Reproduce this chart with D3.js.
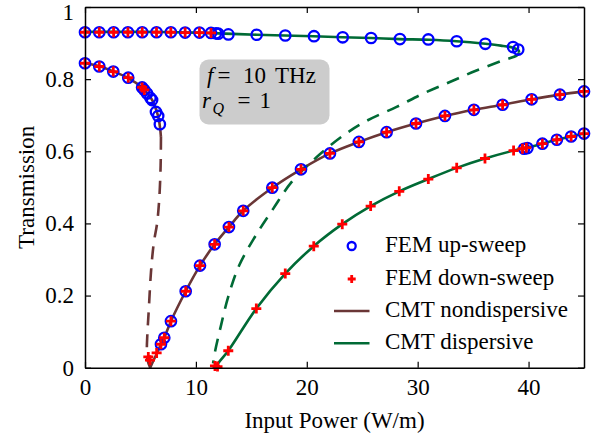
<!DOCTYPE html>
<html>
<head>
<meta charset="utf-8">
<script src="https://cdn.jsdelivr.net/npm/d3@7"></script>
<style>
  html, body { margin: 0; padding: 0; background: #fff; }
  svg { display: block; }
</style>
</head>
<body>
<svg id="chart" width="594" height="440"></svg>
<script>
// ---------------- data ----------------
const xTicks = [0, 10, 20, 30, 40];
const yTicks = [0, 0.2, 0.4, 0.6, 0.8, 1];
const xLabel = "Input Power (W/m)";
const yLabel = "Transmission";
const legendLabels = ["FEM up-sweep", "FEM down-sweep", "CMT nondispersive", "CMT dispersive"];

// FEM up-sweep (blue circles)
const upP = [0,1.29,2.58,3.87,5.16,6.45,7.74,9.03,10.32,11.36,11.81,12.02,12.93,15.48,18.06,20.65,23.24,25.8,28.4,30.96,33.52,36.1,38.6,39.07,
             0,1.29,2.55,3.9,5.15,5.35,5.6,5.9,6.05,6.4,6.6,6.75,
             6.85,7.15,7.75,9.08,10.37,11.69,12.98,14.27,16.89,19.48,22.09,24.7,27.2,29.85,32.46,35.07,37.66,40.28,42.83,45,
             39.6,39.9,41.25,42.55,43.84,45.0];
const upT = [0.930,0.930,0.930,0.930,0.930,0.930,0.930,0.929,0.929,0.928,0.927,0.926,0.924,0.923,0.921,0.919,0.916,0.914,0.911,0.910,0.905,0.898,0.889,0.882,
             0.844,0.835,0.821,0.804,0.777,0.770,0.760,0.748,0.742,0.709,0.698,0.675,
             0.065,0.083,0.129,0.212,0.283,0.342,0.390,0.435,0.499,0.550,0.594,0.626,0.653,0.677,0.698,0.715,0.729,0.744,0.757,0.766,
             0.607,0.609,0.621,0.632,0.641,0.649];

// FEM down-sweep (red crosses)
const downP = [0,1.29,2.58,3.87,5.16,6.45,7.74,9.03,10.32,11.36,
               0,1.29,2.55,3.9,5.15,5.35,
               5.71,5.86,6.46,6.85,7.15,7.75,9.08,10.37,11.69,12.98,14.27,16.89,19.48,22.09,24.7,27.2,29.85,32.46,35.07,37.66,40.28,42.83,45,
               11.72,11.95,12.92,15.45,18.06,20.63,23.2,25.76,28.34,30.96,33.52,36.07,38.65,39.45,39.8,41.25,42.55,43.84,45.0];
const downT = [0.930,0.930,0.930,0.930,0.930,0.930,0.930,0.929,0.929,0.928,
               0.844,0.835,0.821,0.804,0.777,0.770,
               0.030,0.021,0.041,0.065,0.083,0.129,0.212,0.283,0.342,0.390,0.435,0.499,0.550,0.594,0.626,0.653,0.677,0.698,0.715,0.729,0.744,0.757,0.766,
               0.005,0.003,0.047,0.164,0.261,0.337,0.398,0.448,0.489,0.523,0.554,0.580,0.602,0.607,0.610,0.621,0.632,0.641,0.649];

// CMT nondispersive (brown): stable upper, unstable middle (dashed), stable lower
const ndUpperP = [0,1.3,2.6,3.9,5.1,5.7,6.1,6.45,6.65,6.78,6.85];
const ndUpperT = [0.845,0.836,0.821,0.803,0.778,0.758,0.740,0.712,0.690,0.662,0.640];
const ndMidP = [6.85,6.82,6.7,6.5,6.2,5.95,5.75,5.62,5.58,5.65,5.88];
const ndMidT = [0.640,0.56,0.47,0.40,0.345,0.265,0.16,0.09,0.05,0.02,0.0];
const ndLowerP = [5.88,6.1,6.45,6.85,7.15,7.75,9.08,10.37,11.69,12.98,14.27,16.89,19.48,22.09,24.7,27.2,29.85,32.46,35.07,37.66,40.28,42.83,45];
const ndLowerT = [0,0.015,0.038,0.065,0.083,0.129,0.212,0.283,0.342,0.390,0.435,0.499,0.550,0.594,0.626,0.653,0.677,0.698,0.715,0.729,0.744,0.757,0.766];

// CMT dispersive (green)
const dUpperP = [0,5,10,12,15.5,18,20.6,23.2,25.8,28.4,31,33.5,36.1,37.5,38.6,39.1,39.15];
const dUpperT = [0.931,0.931,0.929,0.927,0.923,0.921,0.919,0.916,0.914,0.911,0.909,0.905,0.898,0.893,0.887,0.880,0.874];
const dMidP = [39.15,38.95,37.7,35.3,32.9,30.5,28.1,25.5,23.3,20.9,18.64,16.98,15.33,13.91,12.92,12.24,11.72,11.55];
const dMidT = [0.874,0.866,0.852,0.824,0.792,0.760,0.723,0.686,0.644,0.584,0.515,0.441,0.363,0.284,0.197,0.114,0.044,0.012];
const dLowerP = [11.75,12.0,12.92,15.45,18.06,20.63,23.2,25.76,28.34,30.96,33.52,36.07,38.65,39.8,41.25,42.55,43.84,45];
const dLowerT = [0.0,0.012,0.047,0.164,0.261,0.337,0.398,0.448,0.489,0.523,0.554,0.580,0.602,0.610,0.621,0.632,0.641,0.649];

// ---------------- layout / style ----------------
const W = 594, H = 440;
const plot = { left: 85, right: 584, top: 7, bottom: 367.7 };
const brown = "#6a3636", green = "#006a35", blue = "#0000ff", red = "#ff0000";
const fontSize = 23;
const serif = '"Liberation Serif", "Times New Roman", Times, Tinos, "DejaVu Serif", "Noto Serif", serif';

const svg = d3.select("#chart");
svg.append("rect").attr("width", W).attr("height", H).attr("fill", "#fff");

const x = d3.scaleLinear().domain([0, 45]).range([plot.left, plot.right]);
const y = d3.scaleLinear().domain([0, 1]).range([plot.bottom, plot.top]);

const zip = (a, b) => a.map((v, i) => [v, b[i]]);
const line = d3.line().x(d => x(d[0])).y(d => y(d[1])).curve(d3.curveCatmullRom.alpha(0.5));
const txt = (sel, size) => sel.style("font-family", serif).style("font-size", size + "px").attr("fill", "#000");

// annotation box (behind data)
const ann = svg.append("g");
ann.append("rect").attr("x", 199.5).attr("y", 59.5).attr("width", 130).attr("height", 65)
  .attr("rx", 9).attr("fill", "#cccccc");
const t1 = txt(ann.append("text").attr("y", 83.3), fontSize);
t1.append("tspan").attr("x", 207).style("font-style", "italic").text("f");
t1.append("tspan").attr("x", 217.5).text("=");
t1.append("tspan").attr("x", 243).text("10");
t1.append("tspan").attr("x", 275).text("THz");
const t2 = txt(ann.append("text").attr("y", 107.7), fontSize);
t2.append("tspan").attr("x", 202).style("font-style", "italic").text("r");
t2.append("tspan").attr("x", 212.5).attr("dy", 6).style("font-style", "italic").style("font-size", "16px").text("Q");
t2.append("tspan").attr("x", 237.5).attr("dy", -6).text("=");
t2.append("tspan").attr("x", 259.5).text("1");

// CMT lines
const lines = svg.append("g").attr("fill", "none").attr("stroke-width", 2.6);
lines.append("path").attr("d", line(zip(ndUpperP, ndUpperT))).attr("stroke", brown);
lines.append("path").attr("d", line(zip(ndMidP, ndMidT))).attr("stroke", brown).attr("stroke-dasharray", "13,9");
lines.append("path").attr("d", line(zip(ndLowerP, ndLowerT))).attr("stroke", brown);
lines.append("path").attr("d", line(zip(dUpperP, dUpperT))).attr("stroke", green);
lines.append("path").attr("d", line(zip(dMidP, dMidT))).attr("stroke", green).attr("stroke-dasharray", "13,9");
lines.append("path").attr("d", line(zip(dLowerP, dLowerT))).attr("stroke", green);

// FEM markers
svg.append("g").selectAll("circle").data(zip(upP, upT)).join("circle")
  .attr("cx", d => x(d[0])).attr("cy", d => y(d[1])).attr("r", 5.2)
  .attr("fill", "none").attr("stroke", blue).attr("stroke-width", 2.3);
const crossPath = s => `M${-s},0H${s}M0,${-s}V${s}`;
svg.append("g").selectAll("path").data(zip(downP, downT)).join("path")
  .attr("transform", d => `translate(${x(d[0])},${y(d[1])})`)
  .attr("d", crossPath(5)).attr("stroke", red).attr("stroke-width", 2.8).attr("fill", "none");

// axes (inward ticks on all four sides)
const tickLen = 6;
const fmt = d => d3.format("~g")(d);
const axB = svg.append("g").attr("transform", `translate(0,${plot.bottom})`)
  .call(d3.axisBottom(x).tickValues(xTicks).tickFormat(fmt).tickSizeInner(-tickLen).tickSizeOuter(0).tickPadding(11));
const axT = svg.append("g").attr("transform", `translate(0,${plot.top})`)
  .call(d3.axisTop(x).tickValues(xTicks).tickFormat("").tickSizeInner(-tickLen).tickSizeOuter(0));
const axL = svg.append("g").attr("transform", `translate(${plot.left},0)`)
  .call(d3.axisLeft(y).tickValues(yTicks).tickFormat(fmt).tickSizeInner(-tickLen).tickSizeOuter(0).tickPadding(11));
const axR = svg.append("g").attr("transform", `translate(${plot.right},0)`)
  .call(d3.axisRight(y).tickValues(yTicks).tickFormat("").tickSizeInner(-tickLen).tickSizeOuter(0));
[axB, axT, axL, axR].forEach(a => {
  a.attr("font-family", null).attr("font-size", null);
  a.selectAll(".domain").attr("stroke", "#000").attr("stroke-width", 1.5);
  a.selectAll(".tick line").attr("stroke", "#000").attr("stroke-width", 1.2);
  txt(a.selectAll("text"), fontSize);
});
// keep the top "1" label inside the picture
axL.selectAll(".tick").filter(d => d === 1).select("text").attr("dy", "0.55em");

// axis titles
txt(svg.append("text").attr("x", (plot.left + plot.right) / 2).attr("y", 427.5)
  .attr("text-anchor", "middle"), 23).text(xLabel);
txt(svg.append("text").attr("transform", `translate(33.5,${(plot.top + plot.bottom) / 2}) rotate(-90)`)
  .attr("text-anchor", "middle"), fontSize).text(yLabel);

// legend
const lg = svg.append("g");
const rowY = [246, 279, 311, 343.3];
const baseY = [252.3, 284.6, 316.8, 348.5];
lg.append("circle").attr("cx", 351.7).attr("cy", rowY[0]).attr("r", 4)
  .attr("fill", "none").attr("stroke", blue).attr("stroke-width", 2.3);
lg.append("path").attr("transform", `translate(351.7,${rowY[1]})`).attr("d", crossPath(4))
  .attr("stroke", red).attr("stroke-width", 2.8);
lg.append("line").attr("x1", 334).attr("x2", 369.5).attr("y1", rowY[2]).attr("y2", rowY[2])
  .attr("stroke", brown).attr("stroke-width", 2.6);
lg.append("line").attr("x1", 334).attr("x2", 369.5).attr("y1", rowY[3]).attr("y2", rowY[3])
  .attr("stroke", green).attr("stroke-width", 2.6);
legendLabels.forEach((t, i) => {
  txt(lg.append("text").attr("x", 385).attr("y", baseY[i]), fontSize).text(t);
});
</script>
</body>
</html>
